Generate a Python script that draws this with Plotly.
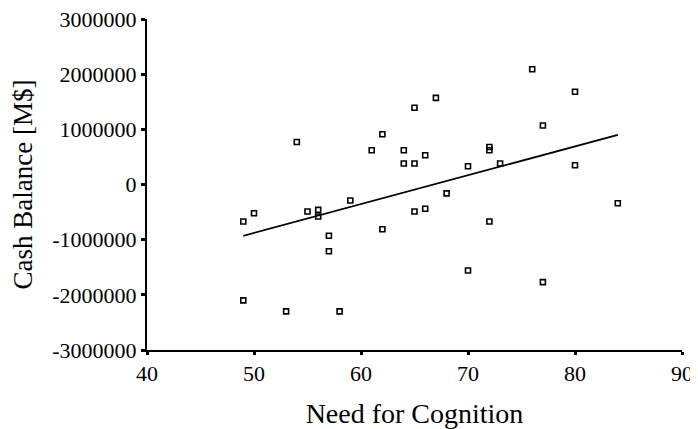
import plotly.graph_objects as go

# Need for Cognition scores (x) and Cash Balance (y)
need_for_cognition = [49, 49, 50, 53, 54, 55, 56, 56, 57, 57, 58, 59, 61, 62, 62,
                      64, 64, 65, 65, 65, 66, 66, 67, 68, 70, 70, 72, 72, 72, 73,
                      76, 77, 77, 80, 80, 84]
cash_balance = [-670000, -2100000, -520000, -2300000, 770000, -490000, -460000, -580000,
                -930000, -1210000, -2300000, -290000, 620000, 910000, -810000,
                620000, 380000, 380000, 1390000, -490000, 530000, -440000, 1570000,
                -160000, 330000, -1560000, 680000, 620000, -670000, 380000,
                2090000, 1070000, -1770000, 1680000, 350000, -340000]

# Fitted trend line endpoints
fit_x = [49, 84]
fit_y = [-930000, 900000]

x_ticks = [40, 50, 60, 70, 80, 90]
y_ticks = [-3000000, -2000000, -1000000, 0, 1000000, 2000000, 3000000]
y_tick_labels = ["-3000000", "-2000000", "-1000000", "0", "1000000", "2000000", "3000000"]

serif = "Liberation Serif, Times New Roman, serif"

fig = go.Figure()
fig.add_trace(go.Scatter(
    x=fit_x, y=fit_y, mode="lines",
    line=dict(color="black", width=1.8),
    showlegend=False, hoverinfo="skip"))
fig.add_trace(go.Scatter(
    x=need_for_cognition, y=cash_balance, mode="markers",
    marker=dict(symbol="square-open", size=5, color="black", line=dict(width=1.6, color="black")),
    showlegend=False))

fig.update_layout(
    width=690, height=421,
    margin=dict(l=139, r=16, t=11, b=79),
    paper_bgcolor="white", plot_bgcolor="white",
    font=dict(family=serif, color="black", size=22),
    xaxis=dict(
        range=[40, 90], tickvals=x_ticks, ticktext=[str(v) for v in x_ticks],
        showgrid=False, zeroline=False, showline=True, linecolor="black", linewidth=2,
        ticks="outside", ticklen=3, tickwidth=3, tickcolor="black",
        tickfont=dict(size=22, family=serif), ticklabeloverflow="allow",
        title=dict(text="Need for Cognition", font=dict(size=28, family=serif), standoff=21),
        automargin=False,
    ),
    yaxis=dict(
        range=[-3000000, 3000000], tickvals=y_ticks, ticktext=y_tick_labels,
        showgrid=False, zeroline=False, showline=True, linecolor="black", linewidth=2,
        ticks="outside", ticklen=4, tickwidth=3, tickcolor="black",
        tickfont=dict(size=22, family=serif), ticklabeloverflow="allow",
        title=dict(text="Cash Balance [M$]", font=dict(size=27, family=serif), standoff=17),
        automargin=False,
    ),
)

fig.write_html("out.html")
